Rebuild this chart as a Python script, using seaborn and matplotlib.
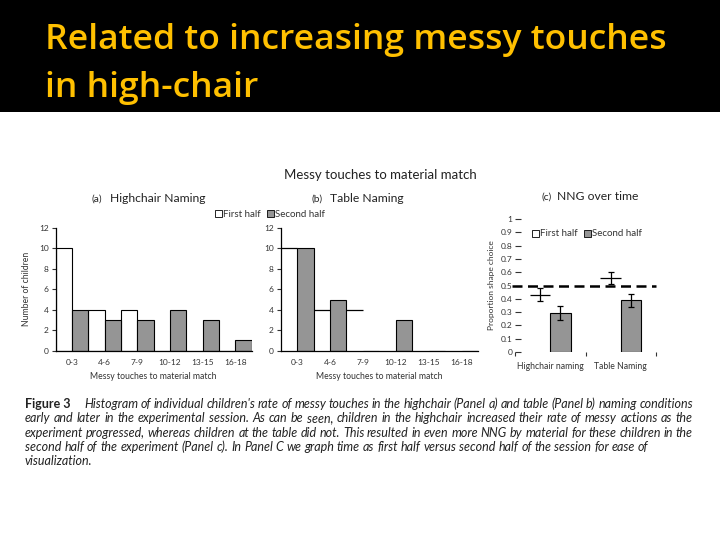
import matplotlib
matplotlib.use("Agg")
import matplotlib.pyplot as plt
from matplotlib.patches import Rectangle, Patch
import seaborn as sns
import pandas as pd

# ---------------- data ----------------
bins = ["0-3", "4-6", "7-9", "10-12", "13-15", "16-18"]
halves = ["First half", "Second half"]
hc_first = [10, 4, 4, 0, 0, 0]
hc_second = [4, 3, 3, 4, 3, 1]
tb_first = [10, 4, 4, 0, 0, 0]
tb_second = [10, 5, 0, 3, 0, 0]
conds = ["Highchair naming", "Table Naming"]
nng_first = [0.43, 0.56]
nng_first_err = [0.05, 0.045]
nng_second = [0.29, 0.39]
nng_second_err = [0.053, 0.048]
chance = 0.5
count_ticks = [0, 2, 4, 6, 8, 10, 12]
prop_ticks = [0, 0.1, 0.2, 0.3, 0.4, 0.5, 0.6, 0.7, 0.8, 0.9, 1]
prop_labels = ["0", "0.1", "0.2", "0.3", "0.4", "0.5", "0.6", "0.7", "0.8", "0.9", "1"]

title_lines = ["Related to increasing messy touches", "in high-chair"]
caption_lines = [
    "Histogram of individual children's rate of messy touches in the highchair (Panel a) and table (Panel b) naming conditions",
    "early and later in the experimental session. As can be seen, children in the highchair increased their rate of messy actions as the",
    "experiment progressed, whereas children at the table did not. This resulted in even more NNG by material for these children in the",
    "second half of the experiment (Panel c). In Panel C we graph time as first half versus second half of the session for ease of",
    "visualization.",
]

GREY = "#959595"
FONT = "Lato"
sns.set_theme(style="white")
plt.rcParams["font.family"] = [FONT, "DejaVu Sans"]

W, H = 720, 540
fig = plt.figure(figsize=(7.2, 5.4), dpi=100, facecolor="white")
renderer = fig.canvas.get_renderer()


def fx(px):
    return px / W


def fy(py):
    return 1 - py / H


def width_px(t):
    return t.get_window_extent(renderer).width


def fit(t, target):
    t.set_fontsize(t.get_fontsize() * target / width_px(t))
    return t


# black header band
fig.patches.append(Rectangle((0, fy(112)), 1, 1 - fy(112), transform=fig.transFigure,
                             facecolor="black", edgecolor="none", zorder=0))
t1 = fig.text(fx(45), fy(49), title_lines[0], color="#FFC000", fontsize=24,
              fontweight="semibold", family=["Open Sans", "DejaVu Sans"],
              va="baseline", ha="left")
fit(t1, 622)
fig.text(fx(45), fy(97), title_lines[1], color="#FFC000", fontsize=t1.get_fontsize(),
         fontweight="semibold", family=["Open Sans", "DejaVu Sans"],
         va="baseline", ha="left")


def hist_df(first, second):
    return pd.DataFrame({
        "bin": bins * 2,
        "count": list(first) + list(second),
        "half": [halves[0]] * len(bins) + [halves[1]] * len(bins),
    })


pal = {halves[0]: "white", halves[1]: GREY}


def hist_panel(rect, first, second, outline_first):
    ax = fig.add_axes(rect)
    sns.barplot(data=hist_df(first, second), x="bin", y="count", hue="half",
                palette=pal, width=1.0, edgecolor="black", linewidth=0.8,
                ax=ax, legend=False, zorder=2)
    bar_conts = list(ax.containers[:2])
    if not outline_first:
        for p in bar_conts[0]:
            p.set_linewidth(0)
            if p.get_height() > 0:
                ax.hlines(p.get_height(), p.get_x(), p.get_x() + p.get_width(),
                          color="black", lw=0.9, zorder=3)
    ax.set_xlim(-0.5, 5.5)
    ax.set_ylim(0, 12)
    ax.set_yticks(count_ticks)
    ax.set_facecolor("none")
    for s in ["top", "right"]:
        ax.spines[s].set_visible(False)
    for s in ["left", "bottom"]:
        ax.spines[s].set_color("black")
        ax.spines[s].set_linewidth(0.9)
    ax.tick_params(axis="y", direction="out", length=3, width=0.8, labelsize=6,
                   pad=2, left=True, colors="#333333")
    ax.tick_params(axis="x", length=0, labelsize=6, pad=6, colors="#333333")
    ax.set_xlabel("Messy touches to material match", fontsize=6.2, color="#333333",
                  labelpad=4)
    ax.set_ylabel("")
    return ax


axa = hist_panel([fx(55.7), fy(350.7), fx(196), (350.7 - 228) / H],
                 hc_first, hc_second, True)
axa.set_ylabel("Number of children", fontsize=6.2, color="#333333", labelpad=6)
axb = hist_panel([fx(280.7), fy(350.7), fx(197.3), (350.7 - 228) / H],
                 tb_first, tb_second, False)

# titles of panels
fig.text(fx(380), fy(175), "Messy touches to material match", fontsize=9.5,
         ha="center", va="center", color="#222222")
fig.text(fx(92), fy(199), "(a)", fontsize=7.3, ha="left", va="center", color="#222222")
fig.text(fx(110), fy(198), "Highchair Naming", fontsize=8.7, ha="left", va="center",
         color="#222222")
fig.text(fx(312), fy(199), "(b)", fontsize=7.3, ha="left", va="center", color="#222222")
fig.text(fx(330), fy(198), "Table Naming", fontsize=8.7, ha="left", va="center",
         color="#222222")
fig.text(fx(541), fy(197), "(c)", fontsize=7.3, ha="left", va="center", color="#222222")
fig.text(fx(557), fy(197), "NNG over time", fontsize=8.7, ha="left", va="center",
         color="#222222")

handles = [Patch(facecolor="white", edgecolor="black", linewidth=0.6),
           Patch(facecolor=GREY, edgecolor="black", linewidth=0.6)]
fig.legend(handles, halves, loc="center", bbox_to_anchor=(fx(270), fy(214.5)),
           ncol=2, frameon=False, fontsize=7, handlelength=0.7, handleheight=0.7,
           handletextpad=0.15, columnspacing=0.6, borderpad=0, labelcolor="#333333")

# ---------------- panel c ----------------
axc = fig.add_axes([fx(515), fy(352), fx(141), (352 - 219) / H])
dfc = pd.DataFrame({
    "cond": conds * 2,
    "prop": nng_first + nng_second,
    "half": [halves[0]] * 2 + [halves[1]] * 2,
})
sns.barplot(data=dfc, x="cond", y="prop", hue="half", palette=pal, width=0.575,
            edgecolor="black", linewidth=0.8, ax=axc, legend=False, zorder=2)
errs = [nng_first_err, nng_second_err]
bar_conts_c = list(axc.containers[:2])
for ci, cont in enumerate(bar_conts_c):
    for p, e in zip(list(cont), errs[ci]):
        if ci == 0:
            p.set_linewidth(0)
            axc.hlines(p.get_height(), p.get_x(), p.get_x() + p.get_width(),
                       color="black", lw=0.9, zorder=3)
        else:
            p.set_linewidth(0.8)
        axc.errorbar(p.get_x() + p.get_width() / 2, p.get_height(), yerr=e,
                     color="black", lw=0.9, capsize=2.5, capthick=0.9, zorder=4)
axc.axhline(chance, color="black", ls=(0, (4, 2.2)), lw=1.8, zorder=5, clip_on=False,
            xmin=-0.02, xmax=1.0)
axc.set_xlim(-0.5, 1.5)
axc.set_ylim(0, 1)
axc.set_yticks(prop_ticks)
axc.set_yticklabels(prop_labels)
axc.set_xticks([-0.5, 0.5, 1.5], minor=False)
axc.set_xticklabels(["", "", ""])
axc.set_xticks([0, 1], minor=True)
axc.set_xticklabels(conds, minor=True)
axc.tick_params(axis="x", which="major", direction="out", length=3, width=0.8,
                bottom=True, colors="#333333")
axc.tick_params(axis="x", which="minor", length=0, labelsize=6.2, pad=7,
                labelcolor="#333333")
axc.tick_params(axis="y", direction="in", length=4, width=0.8, left=True,
                labelsize=6, pad=2, colors="#333333")
for s in axc.spines.values():
    s.set_visible(False)
axc.set_facecolor("none")
axc.set_xlabel("")
axc.set_ylabel("Proportion shape choice", fontsize=6, color="#333333", labelpad=4)
fig.legend(handles, halves, loc="center", bbox_to_anchor=(fx(587), fy(234)),
           ncol=2, frameon=False, fontsize=7, handlelength=0.7, handleheight=0.7,
           handletextpad=0.15, columnspacing=0.6, borderpad=0, labelcolor="#333333")

# ---------------- caption ----------------
cap_base = [408, 422.3, 436.6, 450.9, 465]
CAP_SIZE = 9.0
fig.text(fx(25), fy(cap_base[0]), "Figure 3", fontsize=CAP_SIZE, fontweight="bold",
         ha="left", va="baseline", color="#222222")


def justified(line, x0, x1, yy, justify):
    words = line.split(" ")
    texts = [fig.text(0, fy(yy), w, fontsize=CAP_SIZE, style="italic", ha="left",
                      va="baseline", color="#222222") for w in words]
    widths = [width_px(t) for t in texts]
    probe2 = fig.text(0, 0, "a a", fontsize=CAP_SIZE, style="italic")
    probe1 = fig.text(0, 0, "aa", fontsize=CAP_SIZE, style="italic")
    sp_w = width_px(probe2) - width_px(probe1)
    probe1.remove()
    probe2.remove()
    if justify and len(words) > 1:
        gap = (x1 - x0 - sum(widths)) / (len(words) - 1)
    else:
        gap = sp_w
    x = x0
    for t, w in zip(texts, widths):
        t.set_x(fx(x))
        x += w + gap


for i, (line, yy) in enumerate(zip(caption_lines, cap_base)):
    x0 = 84 if i == 0 else 25
    justified(line, x0, 693, yy, i < 3)

fig.savefig("out.png", dpi=100, facecolor="white")
